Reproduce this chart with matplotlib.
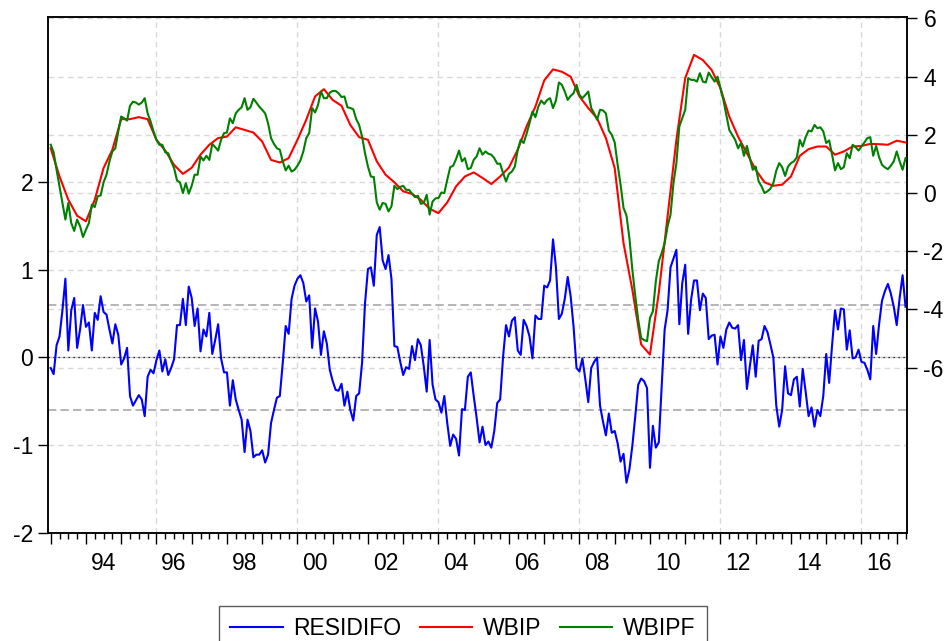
import numpy as np
import matplotlib
matplotlib.use("Agg")
import matplotlib.pyplot as plt
from matplotlib.transforms import blended_transform_factory

plt.rcParams['font.family'] = ['Liberation Sans', 'DejaVu Sans']

start_year = 1993
series_names = ["RESIDIFO", "WBIP", "WBIPF"]

# RESIDIFO (left axis), monthly from 1993M1
resid = [
    -0.12, -0.19, 0.14, 0.24, 0.54, 0.90, 0.08, 0.54, 0.68, 0.11,
    0.32, 0.60, 0.35, 0.40, 0.08, 0.51, 0.43, 0.70, 0.52, 0.49,
    0.32, 0.16, 0.38, 0.26, -0.08, -0.01, 0.11, -0.44, -0.55, -0.49,
    -0.43, -0.48, -0.67, -0.22, -0.14, -0.18, -0.03, 0.08, -0.16, -0.02,
    -0.20, -0.12, -0.02, 0.37, 0.37, 0.67, 0.37, 0.81, 0.68, 0.36,
    0.56, 0.07, 0.32, 0.24, 0.51, 0.04, 0.20, 0.38, -0.01, -0.17,
    -0.17, -0.55, -0.26, -0.48, -0.60, -0.71, -1.08, -0.71, -0.84, -1.14,
    -1.11, -1.11, -1.06, -1.20, -1.11, -0.75, -0.60, -0.46, -0.44, -0.06,
    0.36, 0.27, 0.67, 0.82, 0.90, 0.94, 0.85, 0.64, 0.71, 0.11,
    0.56, 0.41, 0.03, 0.30, 0.16, -0.14, -0.27, -0.37, -0.38, -0.30,
    -0.55, -0.39, -0.60, -0.72, -0.44, -0.41, -0.06, 0.62, 1.01, 1.03,
    0.82, 1.40, 1.49, 1.11, 1.01, 1.17, 0.90, 0.13, 0.12, -0.05,
    -0.20, -0.11, -0.13, 0.13, -0.03, 0.21, 0.14, -0.10, -0.39, 0.20,
    -0.31, -0.48, -0.51, -0.63, -0.44, -0.75, -1.01, -0.88, -0.93, -1.12,
    -0.59, -0.60, -0.22, -0.17, -0.44, -0.69, -0.97, -0.79, -1.00, -0.96,
    -1.03, -0.84, -0.52, -0.48, 0.01, 0.37, 0.24, 0.42, 0.46, 0.08,
    0.03, 0.43, 0.36, 0.24, -0.01, 0.48, 0.44, 0.44, 0.82, 0.80,
    0.88, 1.35, 1.03, 0.44, 0.50, 0.67, 0.92, 0.70, 0.35, -0.12,
    -0.16, -0.01, -0.25, -0.51, -0.12, -0.05, 0.00, -0.55, -0.73, -0.89,
    -0.64, -0.86, -0.84, -0.98, -1.19, -1.10, -1.43, -1.28, -1.01, -0.67,
    -0.31, -0.24, -0.27, -0.35, -1.26, -0.78, -1.03, -0.97, -0.33, 0.32,
    0.54, 1.03, 1.13, 1.23, 0.38, 0.85, 1.06, 0.27, 0.66, 0.88,
    0.88, 0.54, 0.73, 0.68, 0.21, 0.25, 0.26, -0.08, 0.24, 0.11,
    0.32, 0.40, 0.34, 0.33, 0.37, -0.03, 0.20, -0.36, -0.10, 0.14,
    -0.22, 0.19, 0.21, 0.36, 0.29, 0.15, 0.00, -0.55, -0.79, -0.60,
    -0.10, -0.41, -0.43, -0.25, -0.22, -0.56, -0.13, -0.39, -0.67, -0.57,
    -0.79, -0.60, -0.67, -0.44, 0.04, -0.29, 0.14, 0.54, 0.32, 0.56,
    0.55, 0.09, 0.31, -0.01, 0.00, 0.09, -0.05, -0.06, -0.14, -0.25,
    0.36, 0.04, 0.38, 0.65, 0.76, 0.84, 0.73, 0.58, 0.37, 0.68,
    0.94, 0.58,
]

# WBIPF (right axis), monthly from 1993M1
wbipf = [
    1.66, 1.40, 0.80, 0.23, -0.34, -0.91, -0.34, -1.03, -1.30, -0.91,
    -1.14, -1.51, -1.26, -1.03, -0.40, -0.48, -0.11, -0.08, 0.37, 0.63,
    1.09, 1.43, 1.54, 2.12, 2.63, 2.57, 2.49, 3.00, 3.14, 3.11,
    3.04, 3.11, 3.26, 2.74, 2.46, 2.12, 1.83, 1.66, 1.66, 1.40,
    1.37, 1.09, 0.86, 0.43, 0.37, 0.00, 0.34, -0.02, 0.25, 0.63,
    0.63, 1.26, 1.12, 1.28, 1.14, 1.69, 1.58, 1.46, 1.83, 2.06,
    2.08, 2.57, 2.40, 2.74, 2.86, 2.95, 3.26, 2.86, 2.95, 3.24,
    3.11, 2.97, 2.86, 2.74, 2.40, 1.89, 1.69, 1.54, 1.49, 1.09,
    0.78, 0.94, 0.74, 0.80, 0.94, 1.12, 1.43, 1.89, 2.06, 2.92,
    2.77, 3.03, 3.49, 3.26, 3.26, 3.45, 3.51, 3.51, 3.43, 3.30,
    3.32, 2.95, 2.92, 2.88, 2.54, 2.34, 1.94, 1.37, 0.91, 0.57,
    0.55, -0.32, -0.57, -0.34, -0.37, -0.63, -0.46, 0.25, 0.14, 0.21,
    0.25, 0.11, 0.11, -0.02, -0.14, -0.09, -0.37, -0.34, -0.06, -0.74,
    -0.29, -0.18, -0.17, 0.02, 0.00, 0.46, 0.89, 0.94, 1.17, 1.46,
    1.09, 1.20, 0.82, 0.86, 1.14, 1.26, 1.54, 1.32, 1.43, 1.35,
    1.32, 1.20, 1.01, 1.01, 0.69, 0.40, 0.66, 0.74, 0.91, 1.49,
    1.83, 1.72, 2.04, 2.40, 2.80, 2.61, 2.97, 3.18, 3.06, 3.20,
    3.26, 2.92, 3.18, 3.80, 3.72, 3.49, 3.20, 3.34, 3.43, 3.72,
    3.37, 3.26, 3.37, 3.49, 2.92, 2.74, 2.52, 2.86, 2.84, 2.74,
    2.15, 2.00, 1.74, 0.97, 0.29, -0.51, -0.77, -1.54, -2.63, -3.54,
    -4.35, -4.98, -5.05, -5.09, -4.29, -4.06, -3.03, -2.34, -2.06, -1.72,
    -1.14, -0.74, 0.34, 1.03, 2.29, 2.57, 2.86, 3.95, 3.89, 3.89,
    3.83, 4.12, 3.83, 3.80, 4.14, 3.98, 3.83, 4.00, 3.60, 3.20,
    2.69, 2.17, 2.00, 1.83, 1.54, 1.72, 1.28, 1.62, 1.20, 0.80,
    0.91, 0.40, 0.23, 0.00, 0.06, 0.15, 0.34, 0.77, 1.03, 0.89,
    0.59, 0.91, 1.03, 1.09, 1.23, 1.83, 1.60, 1.92, 2.15, 2.12,
    2.34, 2.23, 2.26, 2.12, 1.72, 1.81, 1.32, 0.78, 1.03, 0.82,
    0.89, 1.37, 1.20, 1.66, 1.58, 1.46, 1.60, 1.74, 1.89, 1.92,
    1.28, 1.62, 1.23, 0.97, 0.88, 0.82, 0.94, 1.09, 1.43, 1.09,
    0.80, 1.20,
]

# WBIP (right axis), read every third month from 1993M1
wbip_q = [
    1.54, 0.57, -0.23, -0.78, -0.97, -0.23, 0.86, 1.49, 2.54, 2.54,
    2.61, 2.54, 1.83, 1.46, 0.97, 0.66, 0.87, 1.32, 1.66, 1.89,
    1.94, 2.26, 2.17, 2.08, 1.77, 1.14, 1.05, 1.20, 1.83, 2.52,
    3.32, 3.57, 3.20, 3.00, 2.34, 1.92, 1.83, 1.09, 0.63, 0.37,
    0.06, -0.03, -0.23, -0.54, -0.69, -0.32, 0.23, 0.57, 0.71, 0.52,
    0.31, 0.57, 0.88, 1.49, 2.29, 2.97, 3.87, 4.25, 4.17, 4.00,
    3.32, 2.92, 2.57, 1.89, 0.86, -1.72, -3.32, -5.20, -5.55, -3.43,
    -0.80, 1.83, 3.95, 4.75, 4.57, 4.23, 3.60, 2.63, 1.94, 1.37,
    0.80, 0.37, 0.25, 0.29, 0.57, 1.28, 1.51, 1.60, 1.60, 1.32,
    1.43, 1.60, 1.62, 1.69, 1.68, 1.66, 1.80, 1.74,
]

label_years = [1994, 1996, 1998, 2000, 2002, 2004, 2006, 2008, 2010, 2012, 2014, 2016]
year_labels = ["94", "96", "98", "00", "02", "04", "06", "08", "10", "12", "14", "16"]
left_ticks = [-2, -1, 0, 1, 2]
right_ticks = [-6, -4, -2, 0, 2, 4, 6]
grid_years = [1996, 2000, 2004, 2008, 2012, 2016]
band = 0.6

x_m = start_year + np.arange(len(resid)) / 12.0
x_q = start_year + np.arange(len(wbip_q)) * 3 / 12.0

fig = plt.figure(figsize=(9.47, 6.41), dpi=100)
ax = fig.add_axes([0.05037, 0.16849, 0.9071, 0.80499])
ax2 = ax.twinx()

ax.set_xlim(1992.915, 2017.284)
ax.set_ylim(-2.005, 3.89)
ax2.set_ylim(-11.68, 6.05)

grid_c = '#d9d9d9'
dash = (0, (4, 3))
for gy in grid_years:
    ax.axvline(gy, color=grid_c, lw=1.0, ls=dash, zorder=0)
for t in [1, 2, -1]:
    ax.axhline(t, color=grid_c, lw=1.0, ls=dash, zorder=0)
tr = blended_transform_factory(ax.transAxes, ax2.transData)
for t in right_ticks:
    ax.plot([0, 1], [t, t], transform=tr, color=grid_c, lw=1.0, ls=dash, zorder=0)
ax.axhline(0, color='#c8c8c8', lw=1.0, zorder=0.5)
ax.axhline(0, color='black', lw=0.9, ls=(0, (1, 3)), zorder=0.6)
for b in (band, -band):
    ax.axhline(b, color='#a9a9a9', lw=1.2, ls=(0, (5, 2.5)), zorder=0.5)

l1, = ax.plot(x_m, resid, color='#0000ff', lw=1.5, zorder=3)
l2, = ax2.plot(x_q, wbip_q, color='#ff0000', lw=1.5, zorder=3)
l3, = ax2.plot(x_m, wbipf, color='#008000', lw=1.5, zorder=4)

ax.set_yticks(left_ticks)
ax.set_yticklabels([str(t) for t in left_ticks])
ax2.set_yticks(right_ticks)
ax2.set_yticklabels([str(t) for t in right_ticks])
ax.tick_params(axis='y', direction='out', length=7.5, width=1.0, labelsize=16.5, pad=3, colors='black')
ax2.tick_params(axis='y', direction='out', length=7.5, width=1.0, labelsize=16.5, pad=4.5, colors='black')
for a in (ax, ax2):
    for s in a.spines.values():
        s.set_linewidth(1.1)
        s.set_color('black')

years = np.arange(1993, 2018)
quarters = np.arange(1993, 2017.3, 0.25)
ax.set_xticks(years)
ax.set_xticklabels([''] * len(years))
ax.set_xticks(quarters, minor=True)
ax.tick_params(axis='x', which='major', direction='out', length=8, width=1.0)
ax.tick_params(axis='x', which='minor', direction='out', length=4.5, width=1.0)

sec = ax.secondary_xaxis('bottom')
sec.set_xticks(np.array(label_years) + 0.5)
sec.set_xticklabels(year_labels)
sec.tick_params(axis='x', length=0, labelsize=16.5, pad=14)
sec.spines['bottom'].set_visible(False)

fig.legend([l1, l2, l3], series_names, loc='upper center',
           bbox_to_anchor=(0.4886, 1 - 606 / 641), ncol=3, frameon=True,
           fancybox=False, edgecolor='#333333', fontsize=16.5,
           handlelength=2.3, handletextpad=0.45, columnspacing=0.8,
           borderpad=0.5, borderaxespad=0)

fig.savefig('out.png', dpi=100)
